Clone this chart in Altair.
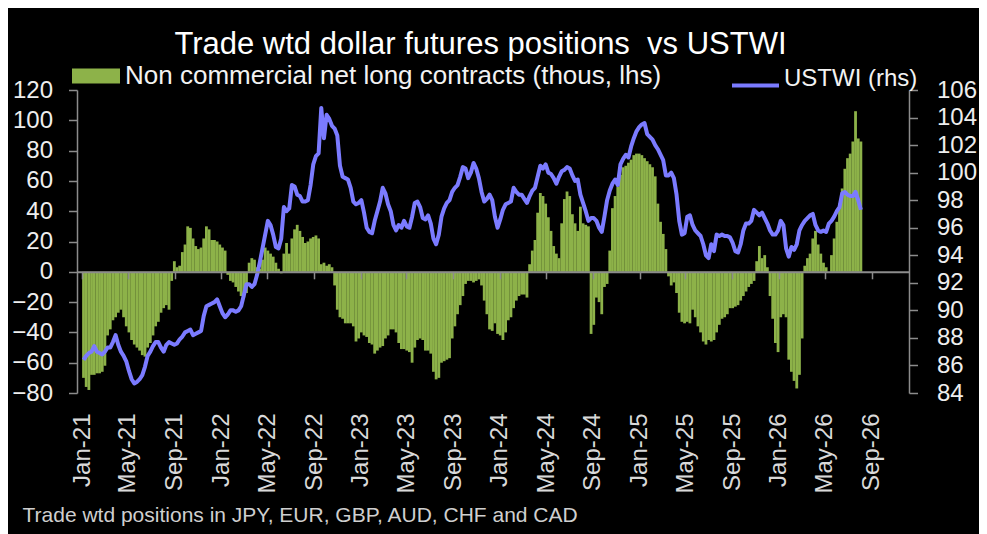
import altair as alt
import pandas as pd

# ---------------- data (weekly) ----------------
start_date = "2021-01-05"

positions = [
    -70, -76, -78, -68, -68, -67, -67, -66, -62, -42,
    -38, -32, -30, -27, -25, -30, -36, -40, -45, -48,
    -50, -52, -55, -56, -50, -47, -42, -36, -33, -27,
    -24, -22, -25, -6, 7, 3, 4, 13, 18, 30,
    29, 22, 17, 15, 16, 22, 30, 28, 21, 21,
    20, 18, 16, 14, -2, -6, -7, -10, -13, -16,
    -17, -14, 6, 9, 8, 3, 2, 8, 16, 14,
    12, 10, 6, 2, -1, 12, 19, 12, 22, 28,
    31, 27, 23, 19, 20, 22, 23, 24, 22, 5,
    6, 4, 5, 3, -9, -25, -30, -31, -34, -34,
    -34, -36, -46, -44, -40, -42, -43, -47, -48, -54,
    -52, -50, -49, -44, -42, -38, -38, -40, -47, -51,
    -51, -52, -53, -60, -50, -45, -44, -45, -52, -52,
    -54, -66, -71, -70, -60, -59, -58, -57, -44, -36,
    -28, -22, -16, -8, -6, -6, -7, -6, -5, -9,
    -19, -28, -38, -39, -34, -41, -42, -45, -40, -32,
    -30, -24, -19, -16, -15, -15, -17, 5, 14, 21,
    39, 52, 50, 45, 36, 27, 17, 12, 9, 32,
    48, 53, 50, 38, 32, 27, 43, 32, 31, 30,
    -41, -35, -17, -20, -28, -10, -8, 14, 42, 50,
    56, 64, 69, 70, 72, 74, 77, 78, 78, 77,
    75, 73, 71, 69, 63, 45, 33, 25, 15, -3,
    -9, -7, -14, -27, -33, -34, -33, -34, -25, -30,
    -36, -40, -46, -48, -45, -46, -45, -40, -35, -31,
    -30, -28, -24, -24, -23, -22, -19, -16, -13, -10,
    -8, -6, 7, 17, 9, 11, 3, -16, -31, -47,
    -53, -30, -28, -30, -58, -66, -72, -77, -68, -44,
    4, 9, 12, 22, 27, 18, 12, 6, 3, 0,
    11, 22, 33, 45, 55, 68, 75, 78, 86, 106,
    88, 86,
]

ustwi = [
    86.4, 86.7, 86.9, 87.0, 87.4, 87.0, 86.9, 86.8, 87.0, 87.3,
    87.3, 87.7, 88.2, 87.5, 87.0, 86.7, 86.3, 85.6, 85.0, 84.7,
    84.8, 85.0, 85.3, 85.9, 86.7, 87.0, 87.4, 87.7, 87.7, 87.3,
    87.0, 87.5, 87.7, 87.6, 87.5, 87.6, 87.9, 88.1, 88.4, 88.5,
    88.6, 88.2, 88.3, 88.4, 88.5, 89.6, 90.3, 90.4, 90.5, 90.6,
    90.8, 90.3, 89.8, 89.5, 89.7, 90.0, 90.0, 89.9, 90.0, 90.3,
    91.1, 91.9, 91.9, 91.7, 91.9, 92.6, 93.5, 94.5, 95.5, 96.5,
    96.2, 95.5, 94.6, 94.5, 95.2, 97.5, 97.2, 97.4, 99.1, 99.0,
    98.4, 98.3, 97.9, 97.9, 98.0, 99.1, 100.6, 101.2, 101.4, 104.7,
    102.5, 104.2, 103.9, 103.4, 103.2, 102.7, 100.5, 99.7, 99.6, 99.5,
    98.9, 97.9, 97.7, 97.8, 98.0, 97.1, 96.0, 95.7, 95.6, 96.5,
    97.2, 97.9, 98.9, 98.5, 97.7, 97.2, 96.2, 95.8, 96.2, 96.0,
    96.5, 96.1, 96.0, 96.8, 97.8, 97.9, 97.5, 96.7, 96.6, 96.9,
    96.3, 95.2, 94.8, 95.5, 96.8, 97.4, 97.8, 98.0, 98.6, 98.9,
    99.1, 99.7, 100.4, 100.3, 99.6, 100.0, 100.7, 100.3, 99.6, 98.6,
    97.9, 98.1, 98.4, 98.0, 96.8, 96.0, 96.6, 97.3, 97.7, 97.8,
    97.9, 98.9, 98.6, 98.4, 98.4, 98.1, 97.8, 98.3, 98.7, 98.9,
    99.7, 100.5, 100.3, 100.6, 100.0, 99.9, 99.6, 99.2, 99.7, 100.1,
    100.2, 100.4, 100.3, 99.8, 99.4, 99.5, 98.4, 97.8, 97.2, 96.5,
    96.7, 96.7, 96.5, 96.0, 95.7, 96.8, 98.0, 98.7, 99.2, 99.5,
    99.1, 100.6, 101.0, 101.3, 101.1, 101.9, 102.5, 103.0, 103.3, 103.5,
    103.6, 102.8, 102.6, 102.4, 102.0, 101.7, 101.3, 100.9, 99.8, 99.8,
    100.0, 99.6, 98.4, 96.5, 95.5, 95.6, 96.8, 96.9, 96.2, 95.8,
    95.6, 95.4, 94.8, 94.0, 93.8, 94.8, 94.3, 95.5, 95.4, 95.5,
    95.4, 95.4, 95.3, 94.9, 94.3, 94.2, 94.8, 95.8, 96.3, 96.3,
    96.5, 97.3, 97.1, 96.9, 97.1, 96.7, 96.3, 95.8, 95.5, 95.5,
    95.8, 96.5, 96.2, 94.5, 93.9, 94.6, 94.4, 94.8, 95.8, 96.2,
    96.5, 96.7, 96.9, 97.0, 96.2, 95.8, 95.7, 95.8, 95.7, 96.3,
    96.5, 96.8, 97.2, 97.5, 98.5, 98.6, 98.4, 98.3, 98.3, 98.6,
    98.0, 97.3,
]

tick_months = [(2021, 1), (2021, 5), (2021, 9), (2022, 1), (2022, 5), (2022, 9),
               (2023, 1), (2023, 5), (2023, 9), (2024, 1), (2024, 5), (2024, 9),
               (2025, 1), (2025, 5), (2025, 9), (2026, 1), (2026, 5), (2026, 9)]
left_ticks = [-80, -60, -40, -20, 0, 20, 40, 60, 80, 100, 120]
right_ticks = [84, 86, 88, 90, 92, 94, 96, 98, 100, 102, 104, 106]

bar_label = "Non commercial net long contracts (thous, lhs)"
line_label = "USTWI (rhs)"
title_text = "Trade wtd dollar futures positions \u00a0vs USTWI"
footer_text = "Trade wtd positions in JPY, EUR, GBP, AUD, CHF and CAD"

# ---------------- styling ----------------
GREEN = "#8db249"
BLUE = "#7b7bff"
AXIS_GREY = "#8c8c8c"
FONT = "Liberation Sans, Arial, Helvetica, sans-serif"

n = min(len(positions), len(ustwi))
df = pd.DataFrame({
    "date": pd.date_range(start_date, periods=n, freq="7D"),
    "pos": positions[:n],
    "twi": ustwi[:n],
    "s": [bar_label] * n,
    "t": [line_label] * n,
})

tick_values = [alt.DateTime(year=y, month=m, date=1) for y, m in tick_months]
x_scale = alt.Scale(domain=[alt.DateTime(year=2021, month=1, date=1),
                            alt.DateTime(year=2026, month=11, date=25)])

bars = alt.Chart(df).mark_bar(width=2.8).encode(
    x=alt.X("date:T", scale=x_scale,
            axis=alt.Axis(orient="bottom", values=tick_values, format="%b-%y",
                          labelAngle=270, labelFontSize=24, labelFont=FONT,
                          labelColor="#d9d9d9", labelPadding=20,
                          labelOverlap=False, labelFlush=False, labelBound=False,
                          domain=False, ticks=False, grid=False,
                          title=footer_text, titleX=-55, titleY=128.5,
                          titleAlign="left", titleAnchor="start",
                          titleBaseline="alphabetic", titleFontSize=21,
                          titleFont=FONT, titleFontWeight="normal",
                          titleColor="#cfcfcf")),
    y=alt.Y("pos:Q", scale=alt.Scale(domain=[-80, 120], nice=False, zero=False),
            axis=alt.Axis(orient="left", values=left_ticks, labelFontSize=24,
                          labelFont=FONT, labelColor="#eeeeee", labelPadding=16,
                          tickSize=8.5, tickColor=AXIS_GREY, domainColor=AXIS_GREY,
                          domainWidth=1.5, tickWidth=1.5, grid=False,
                          title=title_text, titleAngle=0, titleX=403, titleY=-37,
                          titleAlign="center", titleBaseline="alphabetic",
                          titleFontSize=31, titleFont=FONT,
                          titleFontWeight="normal", titleColor="white")),
    color=alt.Color("s:N", scale=alt.Scale(domain=[bar_label], range=[GREEN]),
                    title=None,
                    legend=alt.Legend(orient="none", legendX=-5, legendY=-38,
                                      symbolType="M-1,-0.3125H1V0.3125H-1Z",
                                      symbolSize=2304, symbolStrokeWidth=0,
                                      labelFontSize=26, labelFont=FONT,
                                      labelColor="#f2f2f2", labelOffset=5,
                                      labelLimit=1000, padding=0)),
)

line = alt.Chart(df).mark_line(strokeWidth=4, strokeJoin="round").encode(
    x=alt.X("date:T", scale=x_scale,
            axis=alt.Axis(orient="bottom", values=tick_values, labels=False,
                          domain=True, ticks=True, tickSize=7, tickColor=AXIS_GREY,
                          domainColor=AXIS_GREY, domainWidth=2, tickWidth=1.5,
                          offset=-121.2, zindex=1, grid=False),
            title=None),
    y=alt.Y("twi:Q", scale=alt.Scale(domain=[84, 106], nice=False, zero=False),
            axis=alt.Axis(orient="right", values=right_ticks, labelFontSize=24,
                          labelFont=FONT, labelColor="#eeeeee", labelPadding=19,
                          tickSize=8.5, tickColor=AXIS_GREY, domainColor=AXIS_GREY,
                          domainWidth=1.5, tickWidth=1.5, grid=False),
            title=None),
    stroke=alt.Stroke("t:N", scale=alt.Scale(domain=[line_label], range=[BLUE]),
                      title=None,
                      legend=alt.Legend(orient="none", legendX=653, legendY=-37,
                                        symbolType="M-1,0.3L1,0.3",
                                        symbolSize=2209, symbolStrokeWidth=4,
                                        labelFontSize=24, labelFont=FONT,
                                        labelColor="#f2f2f2", labelOffset=3,
                                        labelLimit=1000, padding=0)),
)

chart = alt.layer(bars, line).resolve_scale(
    y="independent", color="independent"
).resolve_axis(x="independent").properties(
    width=832,
    height=303,
    autosize=alt.AutoSizeParams(type="none"),
    padding={"left": 69, "top": 82, "right": 70, "bottom": 141},
    background="black",
).configure_view(strokeWidth=0)

chart.save("out.html", embed_options={"renderer": "svg", "actions": False})
